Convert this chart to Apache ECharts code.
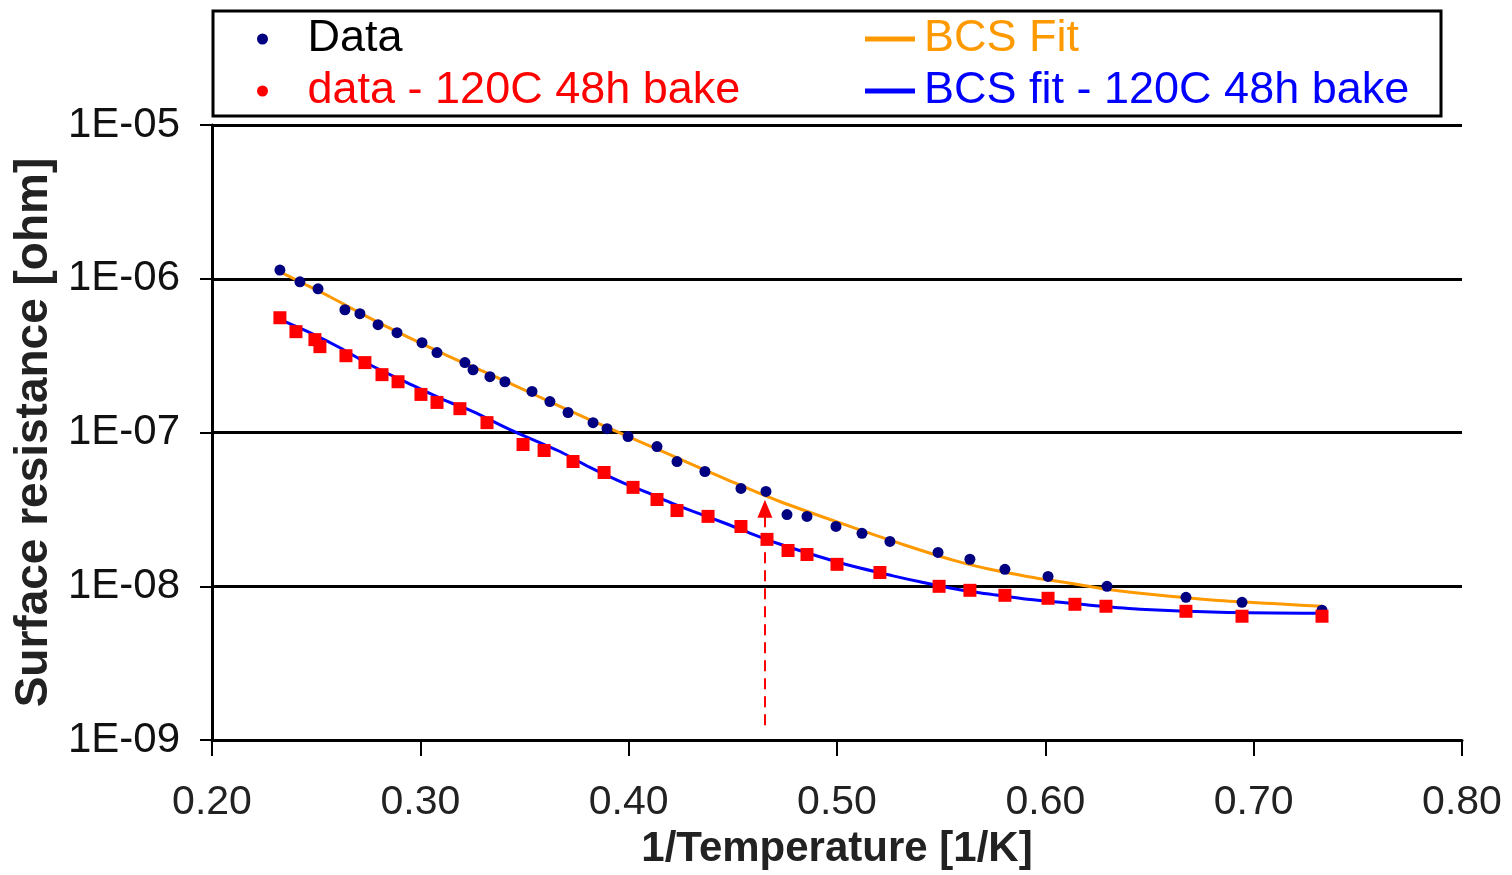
<!DOCTYPE html>
<html>
<head>
<meta charset="utf-8">
<title>Surface resistance</title>
<script src="https://cdn.jsdelivr.net/npm/echarts@6/dist/echarts.min.js"></script>
<style>
html, body { margin: 0; padding: 0; background: #fff; }
#surface_resistance { width: 1512px; height: 875px; }
</style>
</head>
<body>
<div id="surface_resistance"></div>
<script>
// measured points
var data_x = [0.2326,0.2422,0.2509,0.2638,0.2710,0.2797,0.2888,0.3008,0.3080,0.3214,0.3253,0.3334,0.3406,0.3536,0.3622,0.3709,0.3829,0.3896,0.3997,0.4136,0.4232,0.4366,0.4539,0.4659,0.4760,0.4856,0.4995,0.5120,0.5254,0.5485,0.5638,0.5806,0.6013,0.6296,0.6675,0.6944,0.7328];
var data_y = [1.14e-6,9.56e-7,8.61e-7,6.29e-7,5.93e-7,5.03e-7,4.46e-7,3.84e-7,3.31e-7,2.85e-7,2.56e-7,2.31e-7,2.14e-7,1.85e-7,1.59e-7,1.35e-7,1.16e-7,1.06e-7,9.42e-8,8.11e-8,6.48e-8,5.58e-8,4.33e-8,4.14e-8,2.93e-8,2.85e-8,2.45e-8,2.21e-8,1.96e-8,1.66e-8,1.50e-8,1.29e-8,1.16e-8,1.0e-8,8.48e-9,7.87e-9,7.0e-9];

var bake_x = [0.2326,0.2403,0.2494,0.2518,0.2643,0.2734,0.2816,0.2893,0.3003,0.3080,0.3190,0.3320,0.3493,0.3594,0.3733,0.3882,0.4021,0.4136,0.4232,0.4381,0.4539,0.4664,0.4765,0.4856,0.5000,0.5206,0.5490,0.5638,0.5806,0.6013,0.6142,0.6291,0.6675,0.6944,0.7328];
var bake_y = [5.58e-7,4.53e-7,4.02e-7,3.62e-7,3.16e-7,2.85e-7,2.38e-7,2.14e-7,1.77e-7,1.57e-7,1.43e-7,1.16e-7,8.36e-8,7.64e-8,6.48e-8,5.50e-8,4.40e-8,3.67e-8,3.11e-8,2.85e-8,2.45e-8,2.02e-8,1.71e-8,1.61e-8,1.39e-8,1.23e-8,1.0e-8,9.42e-9,8.74e-9,8.36e-9,7.64e-9,7.42e-9,6.88e-9,6.39e-9,6.39e-9];

// fit curves
var fit_x = [0.2326,0.2422,0.2566,0.2744,0.2936,0.3142,0.3286,0.3454,0.3670,0.3944,0.4184,0.4472,0.4726,0.5048,0.5317,0.5557,0.5734,0.5912,0.6118,0.6296,0.6502,0.6814,0.7150,0.7328];
var fit_y = [1.11e-6,9.56e-7,7.64e-7,5.67e-7,4.20e-7,3.11e-7,2.56e-7,2.02e-7,1.48e-7,1.015e-7,7.31e-8,4.95e-8,3.56e-8,2.49e-8,1.87e-8,1.48e-8,1.29e-8,1.16e-8,1.046e-8,9.56e-9,8.87e-9,8.11e-9,7.64e-9,7.42e-9];

var bake_fit_x = [0.2350,0.2470,0.2614,0.2758,0.2936,0.3109,0.3253,0.3430,0.3670,0.3814,0.3958,0.4088,0.4198,0.4309,0.4453,0.4597,0.4717,0.4909,0.5077,0.5269,0.5398,0.5576,0.5720,0.5893,0.6085,0.6229,0.6454,0.6838,0.7328];
var bake_fit_y = [5.26e-7,4.46e-7,3.56e-7,2.76e-7,2.11e-7,1.64e-7,1.37e-7,1.046e-7,7.53e-8,5.93e-8,4.81e-8,4.08e-8,3.52e-8,3.07e-8,2.60e-8,2.18e-8,1.90e-8,1.57e-8,1.35e-8,1.17e-8,1.07e-8,9.56e-9,8.95e-9,8.30e-9,7.85e-9,7.50e-9,7.09e-9,6.78e-9,6.68e-9];

// arrow marking the transition
var arrow_x = 0.4654;
var arrow_y = [1.25e-9, 3.2e-8];

var x_ticks = [0.2, 0.8, 0.1];
var y_range = [1e-9, 1e-5];

var font = "'Liberation Sans', Arial, sans-serif";

function pairs(xs, ys){
	var out = new Array();
	for(var i = 0; i < xs.length; i++){
		out[i] = [xs[i], ys[i]];
	}
	return out;
}

function chart_surface_resistance(){
	var chart = echarts.init(document.getElementById("surface_resistance"));
	var option = {
		animation: false,
		textStyle: { fontFamily: font },
		graphic: [{
			type: 'rect',
			z: -10,
			shape: { x: 213, y: 11, width: 1228, height: 105 },
			style: { fill: '#fff', stroke: '#000', lineWidth: 3 }
		}],
		legend: [{
			orient: 'vertical',
			left: 257,
			top: 16,
			padding: 0,
			itemGap: 6,
			itemWidth: 40,
			itemHeight: 11,
			textStyle: { fontSize: 45, lineHeight: 46, fontFamily: font, padding: [0, 0, 0, 20] },
			data: [
				{ name: 'Data', icon: 'circle', textStyle: { color: '#000' } },
				{ name: 'data - 120C 48h bake', icon: 'circle', textStyle: { color: '#ff0000' } }
			]
		}, {
			orient: 'vertical',
			left: 865,
			top: 16,
			padding: 0,
			itemGap: 6,
			itemWidth: 50,
			itemHeight: 5,
			textStyle: { fontSize: 45, lineHeight: 46, fontFamily: font, padding: [0, 0, 0, 4] },
			data: [
				{ name: 'BCS Fit', icon: 'rect', textStyle: { color: '#ff9900' } },
				{ name: 'BCS fit - 120C 48h bake', icon: 'rect', textStyle: { color: '#0000ff' } }
			]
		}],
		grid: {
			left: 212,
			right: 50,
			top: 125,
			bottom: 134
		},
		xAxis: {
			type: 'value',
			min: x_ticks[0],
			max: x_ticks[1],
			interval: x_ticks[2],
			name: '1/Temperature [1/K]',
			nameLocation: 'middle',
			nameGap: 86,
			nameTextStyle: { fontSize: 42, fontWeight: 'bold', color: '#222', fontFamily: font },
			axisLine: { lineStyle: { color: '#000', width: 3 } },
			axisTick: { show: true, inside: false, length: 16, lineStyle: { color: '#000', width: 2 } },
			axisLabel: {
				fontSize: 41,
				color: '#222',
				margin: 42,
				formatter: function(v){ return v.toFixed(2); }
			},
			splitLine: { show: false }
		},
		yAxis: {
			type: 'log',
			logBase: 10,
			min: y_range[0],
			max: y_range[1],
			name: 'Surface resistance [ohm]',
			nameLocation: 'middle',
			nameGap: 149,
			nameTextStyle: { fontSize: 46, fontWeight: 'bold', color: '#222', fontFamily: font },
			axisLine: { show: true, lineStyle: { color: '#000', width: 3 } },
			axisTick: { show: true, inside: false, length: 12, lineStyle: { color: '#000', width: 2 } },
			axisLabel: {
				fontSize: 42,
				color: '#111',
				margin: 32,
				formatter: function(v){
					var e = Math.round(Math.log(v) / Math.LN10);
					return '1E-0' + (-e);
				}
			},
			splitLine: { show: true, lineStyle: { color: '#000', width: 3 } }
		},
		series: [
			{
				name: 'BCS Fit',
				type: 'line',
				smooth: 0.3,
				showSymbol: false,
				color: '#ff9900',
				lineStyle: { color: '#ff9900', width: 3 },
				data: pairs(fit_x, fit_y),
				z: 2
			},
			{
				name: 'BCS fit - 120C 48h bake',
				type: 'line',
				smooth: 0.3,
				showSymbol: false,
				color: '#0000ff',
				lineStyle: { color: '#0000ff', width: 3 },
				data: pairs(bake_fit_x, bake_fit_y),
				z: 2
			},
			{
				name: 'Data',
				type: 'scatter',
				symbol: 'circle',
				symbolSize: 11,
				itemStyle: { color: '#000080', opacity: 1 },
				data: pairs(data_x, data_y),
				z: 3
			},
			{
				name: 'data - 120C 48h bake',
				type: 'scatter',
				symbol: 'rect',
				symbolSize: 13,
				itemStyle: { color: '#ff0000', opacity: 1 },
				data: pairs(bake_x, bake_y),
				z: 3,
				markLine: {
					silent: true,
					symbol: ['none', 'triangle'],
					symbolSize: [15, 18],
					label: { show: false },
					lineStyle: { color: '#ff0000', type: [11, 7], width: 2, opacity: 1 },
					data: [[
						{ coord: [arrow_x, arrow_y[0]] },
						{ coord: [arrow_x, arrow_y[1]] }
					]]
				}
			}
		]
	};
	chart.setOption(option);
	window.addEventListener("resize", function(){
		chart.resize();
	});
}

chart_surface_resistance();
</script>
</body>
</html>
